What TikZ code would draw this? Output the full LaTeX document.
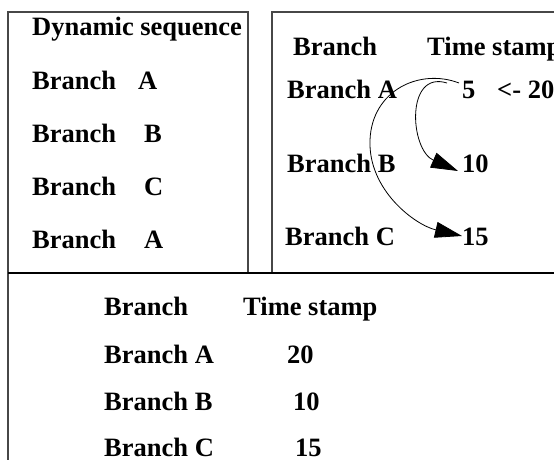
\documentclass[tikz,border=0pt]{standalone}
\usepackage{fontspec}
\setmainfont{Liberation Serif}
\usetikzlibrary{arrows.meta}
\begin{document}
\begin{tikzpicture}[x=1pt,y=-1pt,
  txt/.style={anchor=base west, inner sep=0pt, font=\fontsize{26.5}{30}\selectfont\bfseries},
  frame/.style={draw=black!72, line width=1.2pt},
  link/.style={draw=black, line width=0.8pt, -{Triangle[length=27pt,width=16pt]}}]
\useasboundingbox (0,0) rectangle (554,460);
\clip (0,0) rectangle (554,460);
% frames
\draw[frame] (8,460) -- (8,12) -- (248,12) -- (248,273);
\draw[frame] (272,273) -- (272,12) -- (560,12);
\draw[frame, draw=black] (8,273) -- (560,273);
% left box
\node[txt] (dyn) at (32,36) {Dynamic sequence};
\node[txt] (s1) at (32,89) {Branch\hspace{22pt}A};
\node[txt] (s2) at (32,142) {Branch\hspace{28pt}B};
\node[txt] (s3) at (32,195) {Branch\hspace{28pt}C};
\node[txt] (s4) at (32,248) {Branch\hspace{28pt}A};
% right box
\node[txt] (hb) at (293,56) {Branch};
\node[txt] (ht) at (427,56) {Time stamp};
\node[txt] (ra) at (287,98) {Branch A};
\node[txt] (n5) at (462,98) {5};
\node[txt] (n20) at (497,98) {<- 20};
\node[txt] (rb) at (287,172) {Branch B};
\node[txt] (n10) at (462,172) {10};
\node[txt] (rc) at (285,245) {Branch C};
\node[txt] (n15) at (462,245) {15};
% arrows
\coordinate (a1) at ([xshift=-15pt,yshift=15pt]n5.base west);
\coordinate (a2) at ([xshift=-3pt,yshift=15pt]n5.base west);
\draw[link] (a1) .. controls (405,70) and (410,150) .. ([xshift=-4pt,yshift=1pt]n10.base west);
\draw[link] (a2) .. controls (420,68) and (372,90) .. (370,140)
  .. controls (368,190) and (415,225) .. ([xshift=0pt,yshift=9pt]n15.base west);
% bottom table
\node[txt] (bh) at (104,315) {Branch};
\node[txt] (bt) at (243,315) {Time stamp};
\node[txt] (ba) at (104,363) {Branch A};
\node[txt] (b20) at (287,363) {20};
\node[txt] (bb) at (104,410) {Branch B};
\node[txt] (b10) at (293,410) {10};
\node[txt] (bc) at (104,456) {Branch C};
\node[txt] (b15) at (295,456) {15};
\end{tikzpicture}
\end{document}
